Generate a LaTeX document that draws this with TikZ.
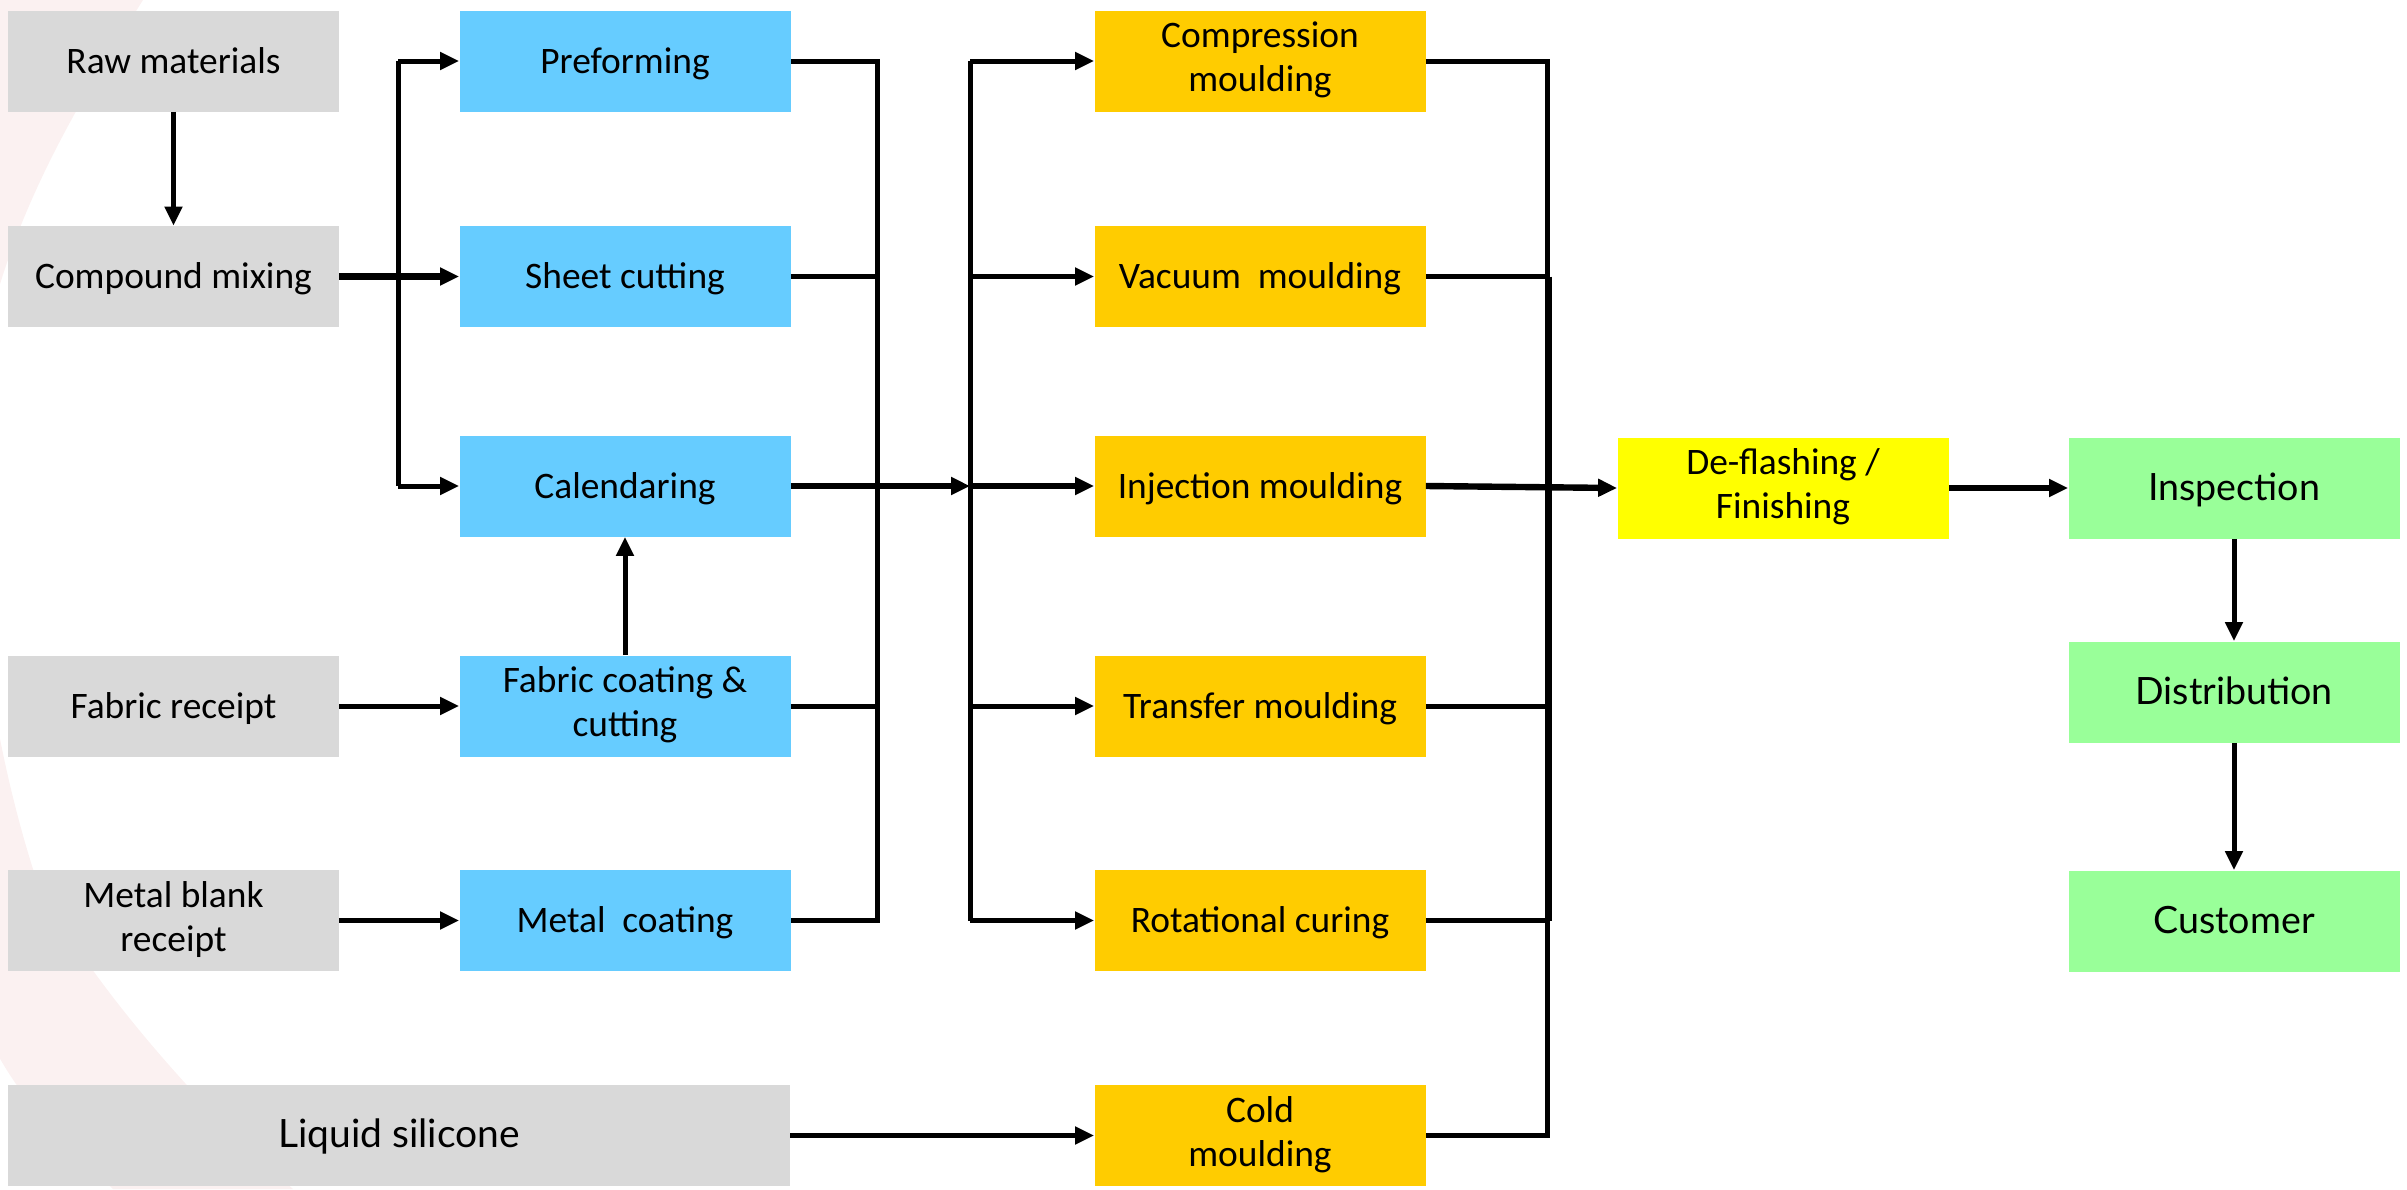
\documentclass[tikz,border=0pt]{standalone}
\usepackage{fontspec}
\setmainfont{Carlito}
\newfontfamily\twfont{Lato}
\usetikzlibrary{arrows.meta,calc}
\definecolor{cgray}{HTML}{D9D9D9}
\definecolor{cblue}{HTML}{66CCFF}
\definecolor{corange}{HTML}{FFCC00}
\definecolor{cyellow}{HTML}{FFFF00}
\definecolor{cgreen}{HTML}{99FF99}
\definecolor{cpink}{RGB}{251,241,241}
\tikzset{
  box/.style={inner sep=0pt, minimum width=165.5pt, minimum height=50.5pt, align=center,
    font=\fontsize{18.7}{22}\selectfont, text=black,
    execute at begin node={\rule{0pt}{16.4pt}},
    execute at end node={\rule[-4pt]{0pt}{4pt}}},
  graybox/.style={box, fill=cgray},
  bluebox/.style={box, fill=cblue},
  orbox/.style={box, fill=corange},
  yelbox/.style={box, fill=cyellow},
  grbox/.style={box, fill=cgreen, font=\twfont\fontsize{18.8}{22}\selectfont},
  conn/.style={line width=2.5pt, draw=black},
  thickconn/.style={line width=3.2pt, draw=black},
  arr/.style={-{Triangle[length=9.5pt,width=8.5pt]}},
}
\begin{document}
\begin{tikzpicture}[x=0.5pt,y=-0.5pt]
\useasboundingbox (0,0) rectangle (2407,1189);
% faint background band
\begin{scope}
\clip (0,0) rectangle (2407,1189);
\fill[cpink] (143,0) .. controls (80,100) and (20,200) .. (-10,320)
  .. controls (-40,500) and (-20,700) .. (33,869)
  .. controls (70,960) and (200,1110) .. (293,1189)
  -- (113,1189) .. controls (60,1140) and (20,1100) .. (-10,1040)
  -- (-300,0) -- cycle;
\end{scope}

% column 1
\node[graybox] (raw)   at (173.5,61)    {Raw materials};
\node[graybox] (mix)   at (173.5,276.5) {Compound mixing};
\node[graybox] (fab)   at (173.5,706)   {Fabric receipt};
\node[graybox] (metal) at (173.5,920.5) {Metal blank\\receipt};
\node[graybox, minimum width=391pt, font=\twfont\fontsize{19.5}{23}\selectfont] (liquid) at (399,1135.5) {Liquid silicone};
% column 2
\node[bluebox] (pre)   at (625,61)    {Preforming};
\node[bluebox] (sheet) at (625,276.5) {Sheet cutting};
\node[bluebox] (cal)   at (625,486)   {Calendaring};
\node[bluebox] (fcoat) at (625,706)   {Fabric coating \&\\cutting};
\node[bluebox] (mcoat) at (625,920.5) {Metal\hspace{0.45em}coating};
% column 3
\node[orbox] (comp)  at (1260,61)    {Compression\\moulding};
\node[orbox] (vac)   at (1260,276.5) {Vacuum\hspace{0.45em}moulding};
\node[orbox] (inj)   at (1260,486)   {Injection moulding};
\node[orbox] (trans) at (1260,706)   {Transfer moulding};
\node[orbox] (rot)   at (1260,920.5) {Rotational curing};
\node[orbox] (cold)  at (1260,1135.5){Cold\\moulding};
% finishing and after
\node[yelbox] (defl) at (1783,488) {De-flashing /\\Finishing};
\node[grbox] (insp) at (2234,488) {Inspection};
\node[grbox] (dist) at (2234,692) {Distribution};
\node[grbox] (cust) at (2234,921) {Customer};

% bus coordinates
\coordinate (bA) at (398,0);
\coordinate (bB) at (877,0);
\coordinate (bC) at (970,0);
\coordinate (bD) at (1547,0);

% raw -> mix
\draw[conn,arr] (raw.south) -- (mix.north);
% mix branch
\draw[thickconn,arr] (mix.east) -- (sheet.west);
\draw[conn] (bA |- pre.west) -- (bA |- cal.west);
\draw[conn,arr] (bA |- pre.west) -- (pre.west);
\draw[conn,arr] (bA |- cal.west) -- (cal.west);
% fabric and metal
\draw[conn,arr] (fab.east) -- (fcoat.west);
\draw[conn,arr] (metal.east) -- (mcoat.west);
\draw[conn,arr] (fcoat.north) -- (cal.south);
% collector B
\draw[conn] (pre.east) -- (bB |- pre.east) -- (bB |- mcoat.east) -- (mcoat.east);
\draw[conn] (sheet.east) -- (bB |- sheet.east);
\draw[conn] (fcoat.east) -- (bB |- fcoat.east);
\draw[thickconn,arr] (cal.east) -- (bC |- cal.east);
% distributor C
\draw[conn] (bC |- comp.west) -- (bC |- rot.west);
\draw[conn,arr] (bC |- comp.west) -- (comp.west);
\draw[conn,arr] (bC |- vac.west) -- (vac.west);
\draw[thickconn,arr] (bC |- inj.west) -- (inj.west);
\draw[conn,arr] (bC |- trans.west) -- (trans.west);
\draw[conn,arr] (bC |- rot.west) -- (rot.west);
% liquid
\draw[conn,arr] (liquid.east) -- (cold.west);
% collector D
\draw[conn] (comp.east) -- (bD |- comp.east) -- (bD |- cold.east) -- (cold.east);
\draw[thickconn] ([xshift=1pt]bD |- vac.east) -- ([xshift=1pt]bD |- rot.east);
\draw[conn] (vac.east) -- (bD |- vac.east);
\draw[conn] (trans.east) -- (bD |- trans.east);
\draw[conn] (rot.east) -- (bD |- rot.east);
\draw[thickconn,arr] (inj.east) -- (defl.west);
% final chain
\draw[thickconn,arr] (defl.east) -- (insp.west);
\draw[conn,arr] (insp.south) -- (dist.north);
\draw[conn,arr] (dist.south) -- (cust.north);
\end{tikzpicture}
\end{document}
